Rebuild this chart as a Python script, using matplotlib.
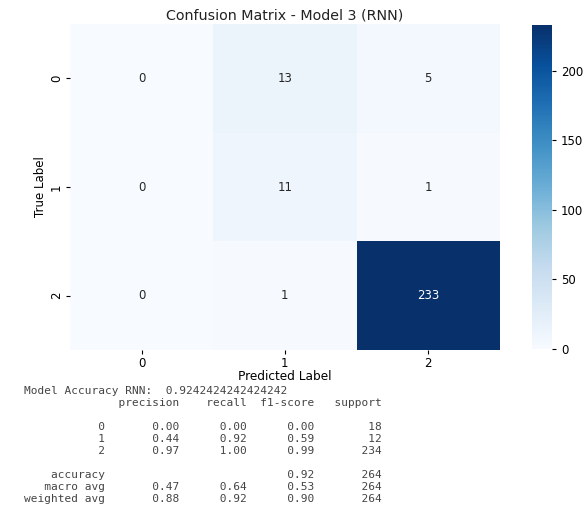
import numpy as np
import matplotlib
matplotlib.use("Agg")
import matplotlib.pyplot as plt
import seaborn as sns

# confusion matrix values (rows = true, cols = predicted)
labels = ["0", "1", "2"]
cm = np.array([[0, 13, 5],
               [0, 11, 1],
               [0, 1, 233]])

# classification report values
accuracy = 0.9242424242424242
precision = [0.00, 0.44, 0.97]
recall = [0.00, 0.92, 1.00]
f1 = [0.00, 0.59, 0.99]
support = [18, 12, 234]
acc_f1, acc_support = 0.92, 264
macro = [0.47, 0.64, 0.53, 264]
weighted = [0.88, 0.92, 0.90, 264]

fig = plt.figure(figsize=(5.88, 5.11), dpi=100)
ax = fig.add_axes([0.119, 0.315, 0.731, 0.638])
cax = fig.add_axes([0.905, 0.317, 0.034, 0.634])

sns.heatmap(cm, annot=True, fmt="d", cmap="Blues", ax=ax, cbar_ax=cax,
            xticklabels=labels, yticklabels=labels, annot_kws={"size": 8.5})
ax.set_title("Confusion Matrix - Model 3 (RNN)", fontsize=10.3, pad=3.5, color="#222222")
ax.set_xlabel("Predicted Label", fontsize=8.7, labelpad=0)
ax.set_ylabel("True Label", fontsize=8.5, labelpad=2)
ax.tick_params(labelsize=8.5, length=3, pad=2)
plt.setp(ax.get_yticklabels(), rotation=90, va="center")
cax.tick_params(labelsize=8.5, length=3)

# build the text report like sklearn's classification_report
w = 12
lines = ["Model Accuracy RNN:  " + repr(accuracy)]
lines.append(" " * w + " " + "".join(" {:>9}".format(h) for h in ["precision", "recall", "f1-score", "support"]))
lines.append("")
for i, lab in enumerate(labels):
    lines.append("{:>{w}s} ".format(lab, w=w) + " {:>9.2f} {:>9.2f} {:>9.2f} {:>9}".format(
        precision[i], recall[i], f1[i], support[i]))
lines.append("")
lines.append("{:>{w}s} ".format("accuracy", w=w) + " {:>9} {:>9} {:>9.2f} {:>9}".format("", "", acc_f1, acc_support))
lines.append("{:>{w}s} ".format("macro avg", w=w) + " {:>9.2f} {:>9.2f} {:>9.2f} {:>9}".format(*macro))
lines.append("{:>{w}s} ".format("weighted avg", w=w) + " {:>9.2f} {:>9.2f} {:>9.2f} {:>9}".format(*weighted))

y0 = 391
for k, line in enumerate(lines):
    fig.text(24 / 588, 1 - (y0 + 12 * k) / 511, line, family="DejaVu Sans Mono",
             fontsize=8.0, color="#444444", va="center", ha="left")

fig.savefig("out.png", dpi=100)
